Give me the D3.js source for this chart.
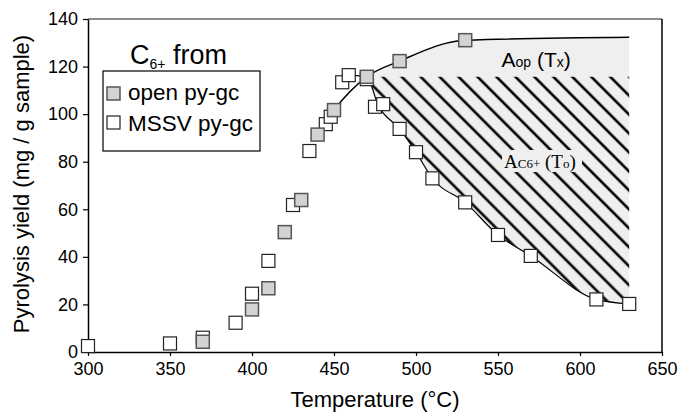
<!DOCTYPE html>
<html>
<head>
<meta charset="utf-8">
<script src="https://cdnjs.cloudflare.com/ajax/libs/d3/7.8.5/d3.min.js"></script>
<style>
  body { margin: 0; background: #fff; }
  text { font-family: "Liberation Sans", Arial, sans-serif; fill: #000; }
</style>
</head>
<body>
<div id="chart"></div>
<script>
// open py-gc (grey squares)
let open_t = [370, 400, 410, 420, 430, 440, 450, 470, 490, 530];
let open_y = [4.3, 17.9, 26.8, 50.4, 63.9, 91.4, 101.7, 115.7, 122.3, 131.1];

// MSSV py-gc (white squares)
let mssv_t = [300, 350, 370, 390, 400, 410, 425, 435, 445, 448, 455, 459, 470, 475, 480, 490, 500, 510, 530, 550, 570, 610, 630];
let mssv_y = [2.5, 3.6, 6.0, 12.3, 24.5, 38.3, 61.8, 84.5, 95.8, 98.9, 113.4, 116.4, 114.7, 103.1, 104.2, 93.8, 84.0, 73.0, 62.9, 49.2, 40.4, 22.1, 20.2];

// fitted curves drawn through the points
let open_fit_t = [440, 450, 470, 490, 530, 630];
let open_fit_y = [91.4, 101.7, 115.7, 122.3, 131.1, 132.3];
let mssv_fit_t = [459, 470, 477, 490, 500, 510, 530, 550, 570, 610, 630];
let mssv_fit_y = [116.4, 115.7, 103.6, 93.8, 84.0, 73.0, 62.9, 49.2, 40.4, 22.1, 20.2];

let x_ticks = [300, 350, 400, 450, 500, 550, 600, 650];
let y_ticks = [0, 20, 40, 60, 80, 100, 120, 140];

let chart_width = 681;
let chart_height = 417;
let pad_left = 88, pad_right = 662, pad_top = 19, pad_bottom = 352;
let box = 13;

let svg = d3.select('#chart')
  .append('svg')
  .attr('width', chart_width)
  .attr('height', chart_height);

//scales
let x_scale = d3.scaleLinear().domain([300, 650]).range([pad_left, pad_right]);
let y_scale = d3.scaleLinear().domain([0, 140]).range([pad_bottom, pad_top]);

//hatch pattern
let defs = svg.append('defs');
let pat = defs.append('pattern')
  .attr('id', 'hatch')
  .attr('patternUnits', 'userSpaceOnUse')
  .attr('width', 13.4)
  .attr('height', 13.4)
  .attr('patternTransform', 'rotate(-45)');
pat.append('rect').attr('width', 13.4).attr('height', 13.4).attr('fill', '#efefef');
pat.append('line')
  .attr('x1', 2).attr('y1', 0).attr('x2', 2).attr('y2', 13.4)
  .attr('stroke', '#000').attr('stroke-width', 2.6);

let peak = open_y[open_t.indexOf(470)];

let open_fit = open_fit_t.map((t, i) => [t, open_fit_y[i]]);
let mssv_fit = mssv_fit_t.map((t, i) => [t, mssv_fit_y[i]]);

//A_op area
svg.append('path')
  .datum(open_fit.filter(d => d[0] >= 470))
  .attr('fill', '#efefef')
  .attr('d', d3.area().curve(d3.curveMonotoneX)
    .x(d => x_scale(d[0])).y0(y_scale(peak)).y1(d => y_scale(d[1])));

//A_C6+ area
svg.append('path')
  .datum(mssv_fit.filter(d => d[0] >= 470))
  .attr('fill', 'url(#hatch)')
  .attr('d', d3.area().curve(d3.curveMonotoneX)
    .x(d => x_scale(d[0])).y0(y_scale(peak)).y1(d => y_scale(d[1])));

//curves
let line = d3.line().curve(d3.curveMonotoneX)
  .x(d => x_scale(d[0])).y(d => y_scale(d[1]));
svg.append('path').datum(open_fit).attr('d', line)
  .attr('fill', 'none').attr('stroke', '#000').attr('stroke-width', 1.5);
svg.append('path').datum(mssv_fit).attr('d', line)
  .attr('fill', 'none').attr('stroke', '#000').attr('stroke-width', 1.2);

//label backgrounds + labels
let lab2 = svg.append('g');
lab2.append('rect').attr('x', 502).attr('y', 150).attr('width', 80).attr('height', 22).attr('fill', '#efefef');
let t2 = lab2.append('text').attr('x', 504).attr('y', 167.5)
  .style('font-family', '"Liberation Serif", "Times New Roman", serif');
t2.append('tspan').attr('font-size', 19).text('A');
t2.append('tspan').attr('font-size', 13).text('C6+');
t2.append('tspan').attr('font-size', 19).text(' (T');
t2.append('tspan').attr('font-size', 13).text('o');
t2.append('tspan').attr('font-size', 19).text(')');

let t1 = svg.append('text').attr('x', 501.5).attr('y', 66.5);
t1.append('tspan').attr('font-size', 21).text('A');
t1.append('tspan').attr('font-size', 14).text('op');
t1.append('tspan').attr('font-size', 21).text(' (T');
t1.append('tspan').attr('font-size', 14).text('x');
t1.append('tspan').attr('font-size', 21).text(')');

//frame
svg.append('line').attr('x1', pad_left).attr('x2', pad_right).attr('y1', pad_top).attr('y2', pad_top)
  .attr('stroke', '#666').attr('stroke-width', 1.5);
svg.append('line').attr('x1', pad_right).attr('x2', pad_right).attr('y1', pad_top).attr('y2', pad_bottom)
  .attr('stroke', '#000').attr('stroke-width', 1.5);

//axes
let x_axis = d3.axisBottom(x_scale).tickValues(x_ticks).tickSize(4).tickSizeOuter(0).tickPadding(6);
let y_axis = d3.axisLeft(y_scale).tickValues(y_ticks).tickSize(5).tickSizeOuter(0).tickPadding(5);

let gx = svg.append('g')
  .attr('transform', 'translate(0,' + pad_bottom + ')')
  .call(x_axis);
let gy = svg.append('g')
  .attr('transform', 'translate(' + pad_left + ',0)')
  .call(y_axis);
[gx, gy].forEach(g => {
  g.select('.domain').attr('stroke', '#000').attr('stroke-width', 1.5);
  g.selectAll('.tick line').attr('stroke', '#000').attr('stroke-width', 1.2);
  g.selectAll('.tick text').attr('font-size', 18).attr('font-family', '"Liberation Sans", Arial, sans-serif');
});

//markers
svg.append('g')
  .selectAll('rect')
  .data(mssv_t.map((t, i) => [t, mssv_y[i]]))
  .enter()
  .append('rect')
  .attr('x', d => x_scale(d[0]) - box / 2)
  .attr('y', d => y_scale(d[1]) - box / 2)
  .attr('width', box).attr('height', box)
  .attr('fill', '#fff').attr('stroke', '#222').attr('stroke-width', 1.2);

svg.append('g')
  .selectAll('rect')
  .data(open_t.map((t, i) => [t, open_y[i]]))
  .enter()
  .append('rect')
  .attr('x', d => x_scale(d[0]) - box / 2)
  .attr('y', d => y_scale(d[1]) - box / 2)
  .attr('width', box).attr('height', box)
  .attr('fill', '#d3d3d3').attr('stroke', '#555').attr('stroke-width', 1.5);

//axis titles
svg.append('text')
  .attr('x', (pad_left + pad_right) / 2).attr('y', 407)
  .attr('text-anchor', 'middle').attr('font-size', 22)
  .text('Temperature (°C)');
svg.append('text')
  .attr('transform', 'translate(29,184) rotate(-90)')
  .attr('text-anchor', 'middle').attr('font-size', 22)
  .text('Pyrolysis yield (mg / g sample)');

//legend
let title = svg.append('text').attr('x', 130).attr('y', 64);
title.append('tspan').attr('font-size', 27).text('C');
title.append('tspan').attr('font-size', 14).attr('dy', 5).text('6+');
title.append('tspan').attr('font-size', 27).attr('dy', -5).text(' from');

let legend = svg.append('g');
legend.append('rect').attr('x', 103).attr('y', 71).attr('width', 157).attr('height', 80)
  .attr('fill', '#fff').attr('stroke', '#000').attr('stroke-width', 1.2);
legend.append('rect').attr('x', 107).attr('y', 87).attr('width', box).attr('height', box)
  .attr('fill', '#d3d3d3').attr('stroke', '#555').attr('stroke-width', 1.5);
legend.append('rect').attr('x', 107).attr('y', 116).attr('width', box).attr('height', box)
  .attr('fill', '#fff').attr('stroke', '#222').attr('stroke-width', 1.2);
legend.append('text').attr('x', 128).attr('y', 99.5).attr('font-size', 22.5).text('open py-gc');
legend.append('text').attr('x', 128).attr('y', 130.5).attr('font-size', 22.5).text('MSSV py-gc');
</script>
</body>
</html>
